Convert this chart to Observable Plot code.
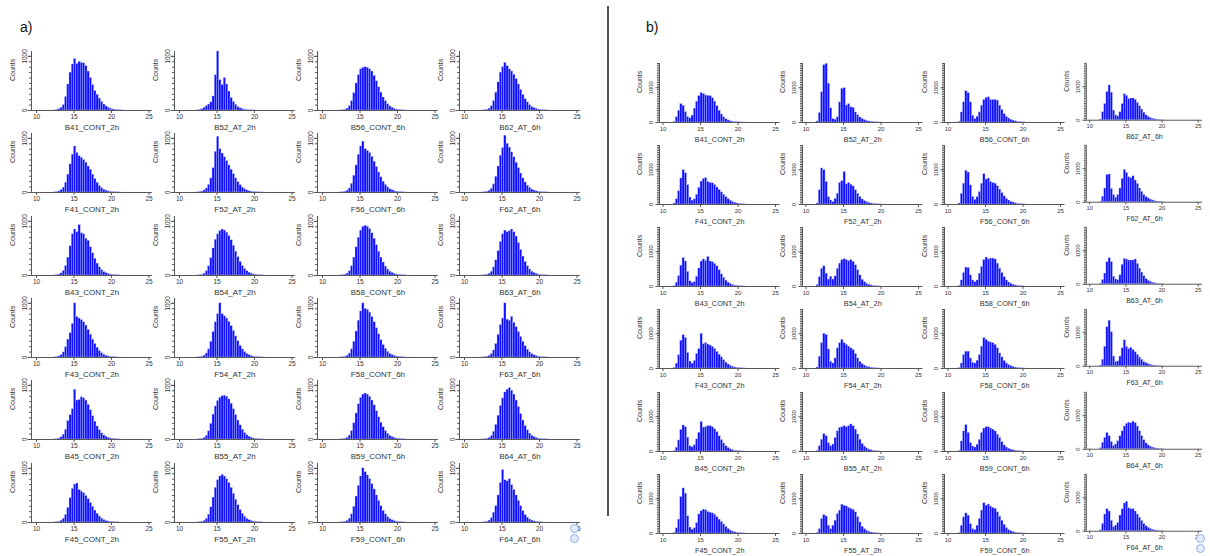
<!DOCTYPE html>
<html>
<head>
<meta charset="utf-8">
<script src="https://cdn.jsdelivr.net/npm/d3@7"></script>
<script src="https://cdn.jsdelivr.net/npm/@observablehq/plot@0.6"></script>
<style>
  html, body { margin: 0; padding: 0; background: #fff; }
  #root { position: relative; width: 1210px; height: 556px; overflow: hidden; font-family: "Liberation Sans", Arial, sans-serif; }
  .cell { position: absolute; }
  .lbl { position: absolute; font-size: 14px; color: #111; line-height: 1; }
  .divider { position: absolute; left: 606.7px; top: 6px; width: 2px; height: 510px; background: #555; }
  .icon { position: absolute; width: 7px; height: 7px; border-radius: 50%; border: 1px solid #8fb0ee; background: #e3ecfc; }
</style>
</head>
<body>
<div id="root">
  <div class="lbl" style="left:20px;top:20px;">a)</div>
  <div class="lbl" style="left:646px;top:20px;">b)</div>
  <div class="divider"></div>
</div>
<script>
// ---------- data ----------
const binStart = 11.4;
const binWidth = 0.3;
const xTicks = [10, 15, 20, 25];
const yLabelTicks = [0, 1000];

const names = [
  ["B41_CONT_2h", "B52_AT_2h", "B56_CONT_6h", "B62_AT_6h"],
  ["F41_CONT_2h", "F52_AT_2h", "F56_CONT_6h", "F62_AT_6h"],
  ["B43_CONT_2h", "B54_AT_2h", "B58_CONT_6h", "B63_AT_6h"],
  ["F43_CONT_2h", "F54_AT_2h", "F58_CONT_6h", "F63_AT_6h"],
  ["B45_CONT_2h", "B55_AT_2h", "B59_CONT_6h", "B64_AT_6h"],
  ["F45_CONT_2h", "F55_AT_2h", "F59_CONT_6h", "F64_AT_6h"]
];

// panel a) counts per bin (bins start at 11.4, width 0.3)
const a_B41 = [0,0,0,3,10,25,50,100,250,480,700,850,950,860,900,880,870,820,720,600,470,360,290,220,160,110,75,50,32,20,12,8,5,3];
const a_B52 = [0,0,0,4,10,25,50,80,110,150,260,650,1090,560,470,600,480,350,230,160,105,65,40,25,15,10,6,4,2,1];
const a_B56 = [0,0,0,2,6,15,35,80,170,320,500,650,760,790,800,790,760,720,640,540,430,330,240,170,115,75,48,30,18,11,7,4,2];
const a_B62 = [0,0,0,2,6,15,35,80,170,330,520,700,800,880,820,760,720,660,580,480,380,290,210,150,100,65,42,27,17,10,6,4,2];
const a_F41 = [0,0,0,2,8,20,45,90,180,330,520,700,850,730,670,640,600,550,480,420,330,250,180,120,80,52,33,20,13,8,5,3,2];
const a_F52 = [0,0,0,3,8,18,38,75,140,260,450,750,1030,800,720,650,580,500,420,340,260,190,135,90,60,38,24,15,9,6,4,2,1];
const a_F56 = [0,0,0,2,6,15,35,75,160,310,500,700,850,940,800,770,730,660,570,470,370,280,200,140,95,62,40,25,16,10,6,4,2];
const a_F62 = [0,0,0,2,6,14,32,70,150,290,480,680,820,1050,900,830,740,650,550,450,350,260,185,125,85,55,35,22,14,9,5,3,2];
const a_B43 = [0,0,0,2,7,18,40,85,175,330,540,760,850,800,930,780,760,680,640,520,410,310,220,150,100,65,42,27,17,11,7,4,2];
const a_B54 = [0,0,0,2,6,15,35,80,170,320,500,660,760,820,850,830,790,730,650,550,440,340,250,175,120,80,52,33,20,12,8,5,3];
const a_B58 = [0,0,0,2,6,15,35,80,170,330,520,700,830,900,920,900,860,780,680,560,440,330,240,165,110,72,46,29,18,11,7,4,2];
const a_B63 = [0,0,0,2,6,14,32,70,150,280,450,620,760,830,800,820,850,800,720,600,470,350,250,170,110,70,45,28,17,10,6,4,2];
const a_F43 = [0,0,0,2,8,20,45,95,190,330,450,620,1000,750,720,690,650,590,510,420,330,250,180,120,80,50,32,20,12,8,5,3];
const a_F54 = [0,0,0,2,6,15,35,75,150,290,470,650,800,1000,800,760,720,660,580,490,390,300,215,150,100,65,42,26,16,10,6,4,2];
const a_F58 = [0,0,0,2,6,14,32,72,150,290,480,680,850,1000,900,880,830,750,650,540,430,320,230,160,105,68,43,27,17,10,6,4,2];
const a_F63 = [0,0,0,2,6,14,30,65,130,250,420,600,720,1000,700,680,750,640,560,470,380,290,210,145,95,62,40,25,15,9,6,3,2];
const a_B45 = [0,0,0,2,7,18,42,90,180,340,450,560,920,720,730,780,760,720,640,540,430,330,240,170,115,75,48,30,19,12,7,4,2];
const a_B55 = [0,0,0,2,5,12,30,70,150,290,460,610,710,770,800,810,790,740,660,560,450,350,260,180,120,78,50,31,19,11,7,4,2];
const a_B59 = [0,0,0,2,5,13,32,72,155,300,480,650,770,830,850,830,790,720,630,520,410,310,225,155,105,68,43,27,17,10,6,4,2];
const a_B64 = [0,0,0,2,5,12,28,65,140,270,440,620,760,870,920,950,900,830,720,600,470,350,250,170,110,70,44,27,16,10,6,3,2];
const a_F45 = [0,0,0,2,6,15,34,70,140,270,450,620,700,720,600,570,540,490,430,360,290,220,160,110,72,46,29,18,11,7,4,2,1];
const a_F55 = [0,0,0,2,5,12,30,68,145,280,460,640,780,850,880,850,800,730,640,530,420,320,230,160,105,68,43,27,17,10,6,4,2];
const a_F59 = [0,0,0,2,5,13,30,70,150,290,480,680,850,1000,930,870,800,710,610,500,400,300,215,150,100,65,41,26,16,10,6,4,2];
const a_F64 = [0,0,0,2,6,15,35,80,180,300,500,730,970,780,760,800,690,600,500,400,300,210,140,90,55,35,20,12,7,4,2];

// panel b) counts per bin
const b_B41 = [20,150,340,530,480,300,160,120,200,400,600,760,850,820,780,770,760,700,600,470,340,230,150,95,60,36,22,13,8,5,3,2];
const b_B52 = [30,270,870,1650,1690,1120,410,100,80,150,580,970,990,490,530,440,420,290,210,145,100,70,50,30,20,12,7,4,2];
const b_B56 = [20,290,580,900,845,580,195,100,165,290,485,650,710,730,650,650,650,630,485,360,240,165,115,80,55,35,20,12,6,3];
const b_B62 = [20,240,485,845,1040,825,290,145,115,240,485,775,730,630,650,650,610,515,420,320,225,145,100,65,45,28,16,9,4,2];
const b_F41 = [30,150,380,750,990,900,560,200,110,150,280,480,660,740,760,650,620,610,560,490,420,350,280,215,155,110,75,48,30,18,10,5];
const b_F52 = [30,410,1040,990,650,210,115,70,165,310,620,670,940,580,620,570,520,410,310,215,145,100,70,45,30,20,12,7,4];
const b_F56 = [30,310,600,970,920,550,215,135,215,360,600,875,720,750,650,620,600,525,430,330,235,165,115,80,55,35,20,12,6,3];
const b_F62 = [15,165,410,815,830,400,215,135,215,410,700,970,875,750,720,775,650,550,410,310,215,155,115,80,55,33,18,10,5,2];
const b_B43 = [15,110,300,600,820,720,420,150,100,130,280,520,720,780,740,850,720,700,650,580,470,350,250,170,110,70,42,25,15,9,5,3];
const b_B54 = [40,270,510,580,370,200,280,200,290,510,660,760,790,760,730,760,710,610,470,320,195,125,80,50,30,18,10,5];
const b_B58 = [20,175,390,545,535,320,175,125,175,370,565,760,835,780,805,805,780,660,515,390,270,175,115,80,50,30,18,10,5,2];
const b_B63 = [15,125,320,660,780,660,225,145,125,270,580,760,740,710,710,710,740,610,465,350,245,155,105,70,45,27,15,8,4,2];
const b_F43 = [20,140,380,800,960,880,450,200,140,220,420,560,1000,700,730,690,660,620,560,480,400,320,240,170,115,75,48,30,18,11,6,3];
const b_F54 = [30,340,730,1000,970,550,195,145,290,580,730,825,730,680,630,580,535,420,290,195,125,85,55,35,22,14,8,4];
const b_F58 = [15,145,390,485,485,290,165,145,225,390,630,875,825,775,750,730,680,580,435,320,215,145,100,70,45,28,16,9,4,2];
const b_F63 = [20,195,580,1165,1360,1020,290,125,145,290,535,775,580,515,550,485,420,340,260,195,125,90,60,40,25,15,9,5,2];
const b_B45 = [15,110,320,620,750,700,400,150,120,180,350,540,850,690,700,730,730,700,640,560,440,330,230,155,100,62,38,22,13,8,4,2];
const b_B55 = [20,150,340,500,440,240,150,200,390,580,680,700,730,700,730,780,730,630,490,340,215,140,90,55,33,20,12,6];
const b_B59 = [20,290,580,760,535,240,145,115,195,340,535,660,700,700,660,630,580,485,390,270,175,115,80,55,35,22,13,7,3,2];
const b_B64 = [30,195,340,485,390,215,100,145,240,390,535,680,760,795,775,825,775,680,535,390,270,175,115,75,50,30,17,9,4,2];
const b_F45 = [20,150,400,1050,1300,1150,500,170,110,150,300,550,640,690,670,620,600,580,540,470,400,330,260,190,130,85,55,33,20,12,7,3];
const b_F55 = [20,125,420,530,490,225,125,225,370,560,660,830,800,780,740,710,680,610,470,320,195,125,80,48,28,17,10,5];
const b_F59 = [15,225,465,580,515,270,125,100,225,420,660,870,805,835,775,740,710,610,485,370,250,155,100,65,40,25,14,8,4,2];
const b_F64 = [30,220,500,660,590,310,125,170,245,470,660,830,880,690,660,660,590,500,405,310,220,150,105,70,45,28,16,8,4,2];

const gridA = [
  [a_B41, a_B52, a_B56, a_B62],
  [a_F41, a_F52, a_F56, a_F62],
  [a_B43, a_B54, a_B58, a_B63],
  [a_F43, a_F54, a_F58, a_F63],
  [a_B45, a_B55, a_B59, a_B64],
  [a_F45, a_F55, a_F59, a_F64]
];
const gridB = [
  [b_B41, b_B52, b_B56, b_B62],
  [b_F41, b_F52, b_F56, b_F62],
  [b_B43, b_B54, b_B58, b_B63],
  [b_F43, b_F54, b_F58, b_F63],
  [b_B45, b_B55, b_B59, b_B64],
  [b_F45, b_F55, b_F59, b_F64]
];

// ---------- layout ----------
const panels = [
  { grid: gridA, axis0: 30.7, colPitch: 142.9, zero0: 110, rowPitch: 82.3,
    xmin: 9.333, xmax: 25.45, ymax: 1090, minorStep: 100,
    tickFont: 6.5, titleFont: 8, countsFont: 7, yLabDx: -7, countsDx: -19 },
  { grid: gridB, axis0: 658.8, colPitch: 142.8, zero0: 121.7, rowPitch: 82.2,
    xmin: 9.53, xmax: 25.6, ymax: 1700, minorStep: 50,
    tickFont: 6, titleFont: 7.3, countsFont: 7, yLabDx: -8, countsDx: -20 }
];
const pxPerUnit = 7.5, frameH = 59;
const mL = 32, mR = 8, mT = 4, mB = 26;
const axisColor = "#555", textColor = "#333";

const root = document.getElementById("root");

function histChart(counts, title, p) {
  const rows = counts.map((c, i) => ({
    x1: binStart + i * binWidth,
    x2: binStart + (i + 1) * binWidth,
    y1: 0,
    y2: c
  }));
  const frameW = (p.xmax - p.xmin) * pxPerUnit;
  const minor = d3.range(0, p.ymax + 1, p.minorStep);
  return Plot.plot({
    width: mL + frameW + mR,
    height: mT + frameH + mB,
    marginLeft: mL, marginRight: mR, marginTop: mT, marginBottom: mB,
    x: { type: "linear", domain: [p.xmin, p.xmax] },
    y: { type: "linear", domain: [0, p.ymax] },
    style: { background: "transparent", overflow: "visible", fontFamily: "Liberation Sans, Arial, sans-serif", color: textColor },
    marks: [
      Plot.rect(rows, { x1: "x1", x2: "x2", y1: "y1", y2: "y2", fill: "#1010ff", stroke: "#b8c2ff", strokeWidth: 0.35 }),
      Plot.ruleY([0], { stroke: axisColor, strokeWidth: 1 }),
      Plot.ruleX([p.xmin], { stroke: axisColor, strokeWidth: 1 }),
      Plot.axisX(xTicks, { tickSize: 3, tickPadding: 1, fontSize: p.tickFont, stroke: axisColor, fill: textColor, label: null }),
      Plot.axisY(minor, { tickSize: 2, tickFormat: () => "", stroke: axisColor, label: null }),
      Plot.axisY(yLabelTicks, { tickSize: 3.5, tickFormat: () => "", stroke: axisColor, label: null }),
      Plot.text(yLabelTicks, { y: d => d, frameAnchor: "left", rotate: -90, dx: p.yLabDx, fontSize: p.tickFont, fill: textColor, text: d => String(d), textAnchor: "middle", lineAnchor: "middle" }),
      Plot.text(["Counts"], { frameAnchor: "left", rotate: -90, dx: p.countsDx, fontSize: p.countsFont, fill: textColor, text: d => d, lineAnchor: "middle" }),
      Plot.text([title], { frameAnchor: "bottom", dy: 17, fontSize: p.titleFont, fill: textColor, text: d => d, lineAnchor: "middle" })
    ]
  });
}

panels.forEach(p => {
  p.grid.forEach((row, r) => {
    row.forEach((counts, c) => {
      const svg = histChart(counts, names[r][c], p);
      const div = document.createElement("div");
      div.className = "cell";
      const axisX = p.axis0 + c * p.colPitch;
      const zeroY = p.zero0 + r * p.rowPitch;
      div.style.left = (axisX - mL) + "px";
      div.style.top = (zeroY - frameH - mT) + "px";
      div.appendChild(svg);
      root.appendChild(div);
    });
  });
});

// small zoom-control icons at the bottom right of each panel
[[570, 524], [570, 534], [1196, 534], [1196, 544]].forEach(([x, y]) => {
  const d = document.createElement("div");
  d.className = "icon";
  d.style.left = x + "px";
  d.style.top = y + "px";
  root.appendChild(d);
});
</script>
</body>
</html>
